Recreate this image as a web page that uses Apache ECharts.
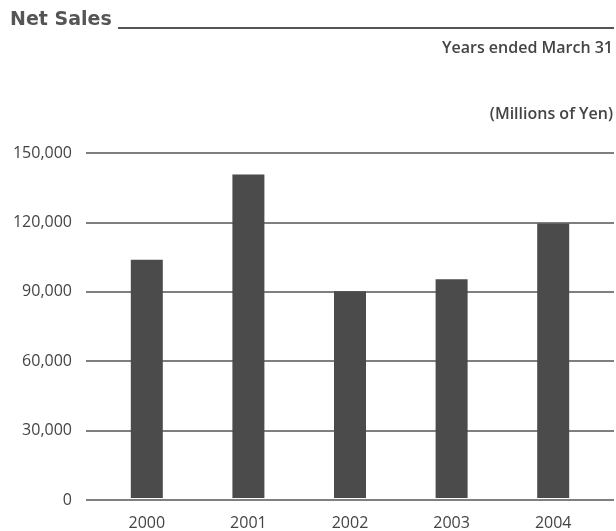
<!DOCTYPE html>
<html>
<head>
<meta charset="utf-8">
<script src="https://cdn.jsdelivr.net/npm/echarts@6/dist/echarts.min.js"></script>
<style>
  html, body { margin: 0; padding: 0; background: #fff; }
  #chart { width: 616px; height: 531px; }
</style>
</head>
<body>
<div id="chart"></div>
<script>
// Net sales by fiscal year (millions of yen)
const years = ['2000', '2001', '2002', '2003', '2004'];
const netSales = [103600, 140700, 89900, 95100, 119300];
const yTicks = { min: 0, max: 150000, interval: 30000 };

const ink = '#4a4b4a';
const textColor = '#444';
const font = '"Open Sans", "Noto Sans", sans-serif';

const chart = echarts.init(document.getElementById('chart'), null, { renderer: 'canvas' });

chart.setOption({
  animation: false,
  backgroundColor: '#fff',
  graphic: [
    {
      type: 'text', left: 10, top: 11,
      style: { text: 'Net Sales', fill: '#555', font: 'bold 19px "DejaVu Sans", sans-serif' }
    },
    {
      type: 'line', shape: { x1: 118, y1: 28, x2: 614, y2: 28 },
      style: { stroke: '#555', lineWidth: 2 }
    },
    {
      type: 'text', right: 3, top: 40,
      style: { text: 'Years ended March 31', fill: textColor, font: '600 16px ' + font }
    },
    {
      type: 'text', right: 3, top: 106,
      style: { text: '(Millions of Yen)', fill: textColor, font: '600 16px ' + font }
    }
  ],
  grid: [
    // value scale with gridlines spanning the full width
    { left: 86, right: 2, top: 153, bottom: 31 },
    // bars laid out over the years
    { left: 96, right: 12, top: 153, bottom: 31 }
  ],
  xAxis: [
    { type: 'value', gridIndex: 0, min: 0, max: 1, show: false },
    {
      type: 'category', gridIndex: 1, data: years,
      axisLine: { show: false }, axisTick: { show: false },
      axisLabel: { color: textColor, fontFamily: font, fontSize: 16, margin: 17 }
    }
  ],
  yAxis: [
    {
      type: 'value', gridIndex: 0,
      min: yTicks.min, max: yTicks.max, interval: yTicks.interval,
      axisLine: { show: false }, axisTick: { show: false },
      axisLabel: {
        color: textColor, fontFamily: font, fontSize: 16, margin: 14,
        formatter: v => v.toLocaleString('en-US')
      },
      splitLine: { show: true, lineStyle: { color: '#555', width: 1.5 } }
    },
    {
      type: 'value', gridIndex: 1,
      min: yTicks.min, max: yTicks.max, interval: yTicks.interval,
      show: false, splitLine: { show: false }
    }
  ],
  series: [
    {
      type: 'bar', xAxisIndex: 1, yAxisIndex: 1,
      data: netSales, barWidth: 32,
      itemStyle: { color: ink }
    }
  ]
});
</script>
</body>
</html>
